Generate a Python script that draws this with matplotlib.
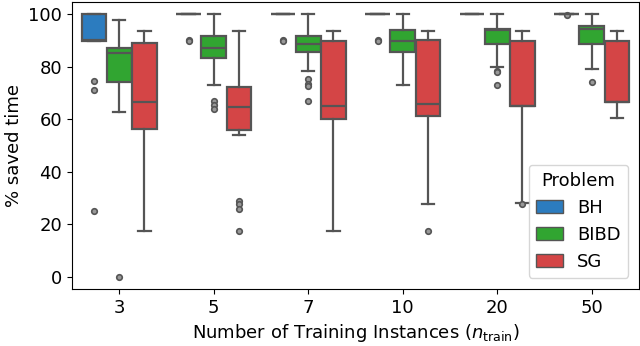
import numpy as np
import matplotlib
matplotlib.use('Agg')
import matplotlib.pyplot as plt
from matplotlib.patches import Patch

# x categories and hue levels
n_train = ["3", "5", "7", "10", "20", "50"]
problems = ["BH", "BIBD", "SG"]
colors = ["#2c7cbf", "#31a531", "#d44546"]

# box summaries: (whislo, q1, med, q3, whishi)
bh_stats = [(89.6, 89.6, 90.3, 100.0, 100.0),
            (100.0, 100.0, 100.0, 100.0, 100.0),
            (100.0, 100.0, 100.0, 100.0, 100.0),
            (100.0, 100.0, 100.0, 100.0, 100.0),
            (100.0, 100.0, 100.0, 100.0, 100.0),
            (100.0, 100.0, 100.0, 100.0, 100.0)]
bibd_stats = [(62.7, 74.0, 85.3, 87.2, 97.8),
              (73.1, 83.3, 87.0, 91.8, 100.0),
              (78.3, 85.7, 88.7, 91.8, 100.0),
              (73.1, 85.6, 89.6, 93.9, 100.0),
              (80.0, 88.5, 94.0, 94.3, 100.0),
              (79.3, 88.5, 94.4, 95.4, 100.0)]
sg_stats = [(17.4, 56.2, 66.5, 89.1, 93.5),
            (54.1, 56.0, 64.8, 72.1, 93.5),
            (17.4, 60.2, 65.0, 89.6, 93.5),
            (27.8, 61.1, 65.8, 90.1, 93.5),
            (28.0, 65.0, 65.0, 89.9, 93.5),
            (60.3, 66.4, 66.4, 89.9, 93.5)]

# outliers
bh_fliers = [[74.6, 71.1, 25.1], [90.3, 89.8], [90.3, 89.8], [90.3, 89.8], [], [99.6]]
bibd_fliers = [[0.1], [67.0, 65.3, 64.0], [75.2, 73.6, 72.6, 66.9], [], [78.4, 77.8, 73.1], [74.3]]
sg_fliers = [[], [29.0, 27.8, 25.9, 17.4], [], [17.4], [27.8], []]

all_stats = [bh_stats, bibd_stats, sg_stats]
all_fliers = [bh_fliers, bibd_fliers, sg_fliers]

fig = plt.figure(figsize=(6.4, 3.46), dpi=100)
ax = fig.add_axes([0.1125, 0.165, 0.886, 0.829])

gray = "#555555"
hue_w = 0.8 / len(problems)
for j, (stats, fliers) in enumerate(zip(all_stats, all_fliers)):
    bxp_stats = []
    for s, f in zip(stats, fliers):
        lo, q1, med, q3, hi = s
        bxp_stats.append(dict(whislo=lo, q1=q1, med=med, q3=q3, whishi=hi, fliers=f))
    pos = np.arange(len(n_train)) + (j - 1) * hue_w
    ax.bxp(bxp_stats, positions=pos, widths=hue_w * 0.98, patch_artist=True,
           manage_ticks=False,
           boxprops=dict(facecolor=colors[j], edgecolor=gray, linewidth=1.6),
           medianprops=dict(color=gray, linewidth=1.6),
           whiskerprops=dict(color=gray, linewidth=1.6),
           capprops=dict(color=gray, linewidth=1.6),
           flierprops=dict(marker="o", markersize=4, markerfacecolor="#999999",
                           markeredgecolor=gray, markeredgewidth=1.2))

ax.set_xlim(-0.5, len(n_train) - 0.5)
ax.set_ylim(-4.6, 104.6)
ax.set_xticks(np.arange(len(n_train)))
ax.set_xticklabels(n_train)
ax.set_yticks([0, 20, 40, 60, 80, 100])
ax.tick_params(labelsize=13)
ax.set_xlabel(r"Number of Training Instances ($n_{\mathrm{train}}$)", fontsize=13)
ax.set_ylabel("% saved time", fontsize=13)

handles = [Patch(facecolor=c, edgecolor=gray, label=p) for c, p in zip(colors, problems)]
ax.legend(handles=handles, title="Problem", loc="lower right", fontsize=13,
          title_fontsize=13, handlelength=1.5, borderaxespad=0.6)

fig.savefig("out.png", dpi=100)
